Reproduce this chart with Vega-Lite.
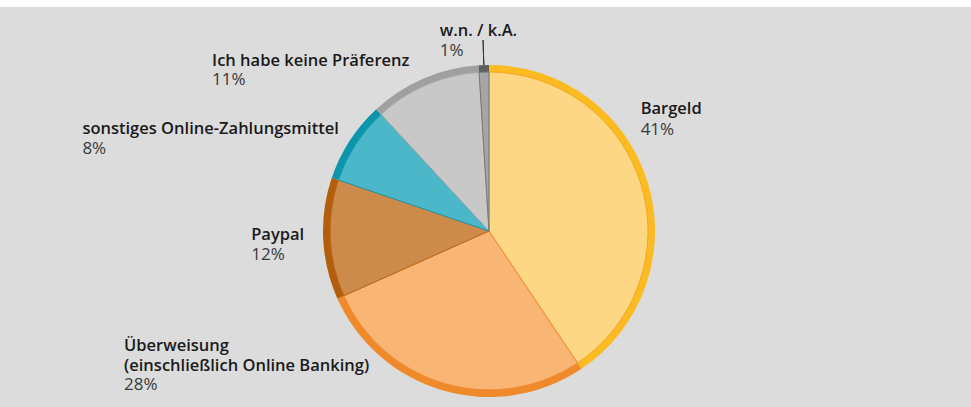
{
  "$schema": "https://vega.github.io/schema/vega-lite/v6.json",
  "width": 978,
  "height": 448,
  "autosize": {"type": "none"},
  "padding": {"left": 0, "top": 7, "right": 0, "bottom": 0},
  "background": "#ffffff",
  "view": {"fill": "#dcdcdc", "stroke": null},
  "config": {"text": {"font": "Open Sans"}},
  "data": {"values": [
    {"ord": 0, "cat": "Bargeld", "share": 0.41},
    {"ord": 1, "cat": "Überweisung\n(einschließlich Online Banking)", "share": 0.28},
    {"ord": 2, "cat": "Paypal", "share": 0.12},
    {"ord": 3, "cat": "sonstiges Online-Zahlungsmittel", "share": 0.08},
    {"ord": 4, "cat": "Ich habe keine Präferenz", "share": 0.11},
    {"ord": 5, "cat": "w.n. / k.A.", "share": 0.01}
  ]},
  "encoding": {
    "theta": {"field": "share", "type": "quantitative", "stack": true},
    "order": {"field": "ord", "type": "quantitative"},
    "detail": {"field": "cat", "type": "nominal"}
  },
  "layer": [
    {
      "mark": {"type": "arc", "radius": 166},
      "encoding": {
        "color": {"field": "cat", "type": "nominal", "legend": null,
          "scale": {"domain": ["Bargeld", "Überweisung\n(einschließlich Online Banking)", "Paypal", "sonstiges Online-Zahlungsmittel", "Ich habe keine Präferenz", "w.n. / k.A."],
                    "range": ["#fbbb21", "#f0892a", "#b35e0a", "#0b96ab", "#a0a0a0", "#5e5e5e"]}}
      }
    },
    {
      "mark": {"type": "arc", "radius": 159, "strokeWidth": 1},
      "encoding": {
        "fill": {"field": "cat", "type": "nominal", "legend": null,
          "scale": {"domain": ["Bargeld", "Überweisung\n(einschließlich Online Banking)", "Paypal", "sonstiges Online-Zahlungsmittel", "Ich habe keine Präferenz", "w.n. / k.A."],
                    "range": ["#fdd784", "#f8b574", "#cc8a4b", "#4bb7c9", "#c8c8c8", "#a5a5a5"]}},
        "stroke": {"field": "cat", "type": "nominal", "legend": null,
          "scale": {"domain": ["Bargeld", "Überweisung\n(einschließlich Online Banking)", "Paypal", "sonstiges Online-Zahlungsmittel", "Ich habe keine Präferenz", "w.n. / k.A."],
                    "range": ["#f5a623", "#ee8a33", "#b8651a", "#1a9aae", "#a8a8a8", "#777777"]}}
      }
    },
    {
      "mark": {"type": "arc", "radius": 191, "innerRadius": 166, "padAngle": 1, "fill": null, "strokeWidth": 1},
      "encoding": {
        "strokeOpacity": {"condition": {"test": "datum.ord == 5", "value": 1}, "value": 0},
        "stroke": {"value": "#333333"}
      }
    },
    {
      "mark": {"type": "text", "radius": 170, "align": "left", "baseline": "alphabetic", "lineBreak": "\n", "lineHeight": 20,
        "fontSize": 16.5, "fontWeight": 600, "fill": "#1a1a1a",
        "dx": {"expr": "datum.ord==0?-11:datum.ord==1?-318:datum.ord==2?-68:datum.ord==3?-264:datum.ord==4?-210:-44"},
        "dy": {"expr": "datum.ord==0?-67.5:datum.ord==1?-43.4:datum.ord==2?1:datum.ord==3?-4.5:datum.ord==4?-8.7:-25"}},
      "encoding": {"text": {"field": "cat", "type": "nominal"}}
    },
    {
      "mark": {"type": "text", "radius": 170, "align": "left", "baseline": "alphabetic",
        "fontSize": 17, "fontWeight": 400, "fill": "#3a3a3a",
        "dx": {"expr": "datum.ord==0?-11:datum.ord==1?-318:datum.ord==2?-68:datum.ord==3?-264:datum.ord==4?-210:-44"},
        "dy": {"expr": "datum.ord==0?-46.5:datum.ord==1?-4.4:datum.ord==2?21:datum.ord==3?15.5:datum.ord==4?10.3:-5"}},
      "encoding": {"text": {"field": "share", "type": "quantitative", "format": ".0%"}}
    }
  ]
}
